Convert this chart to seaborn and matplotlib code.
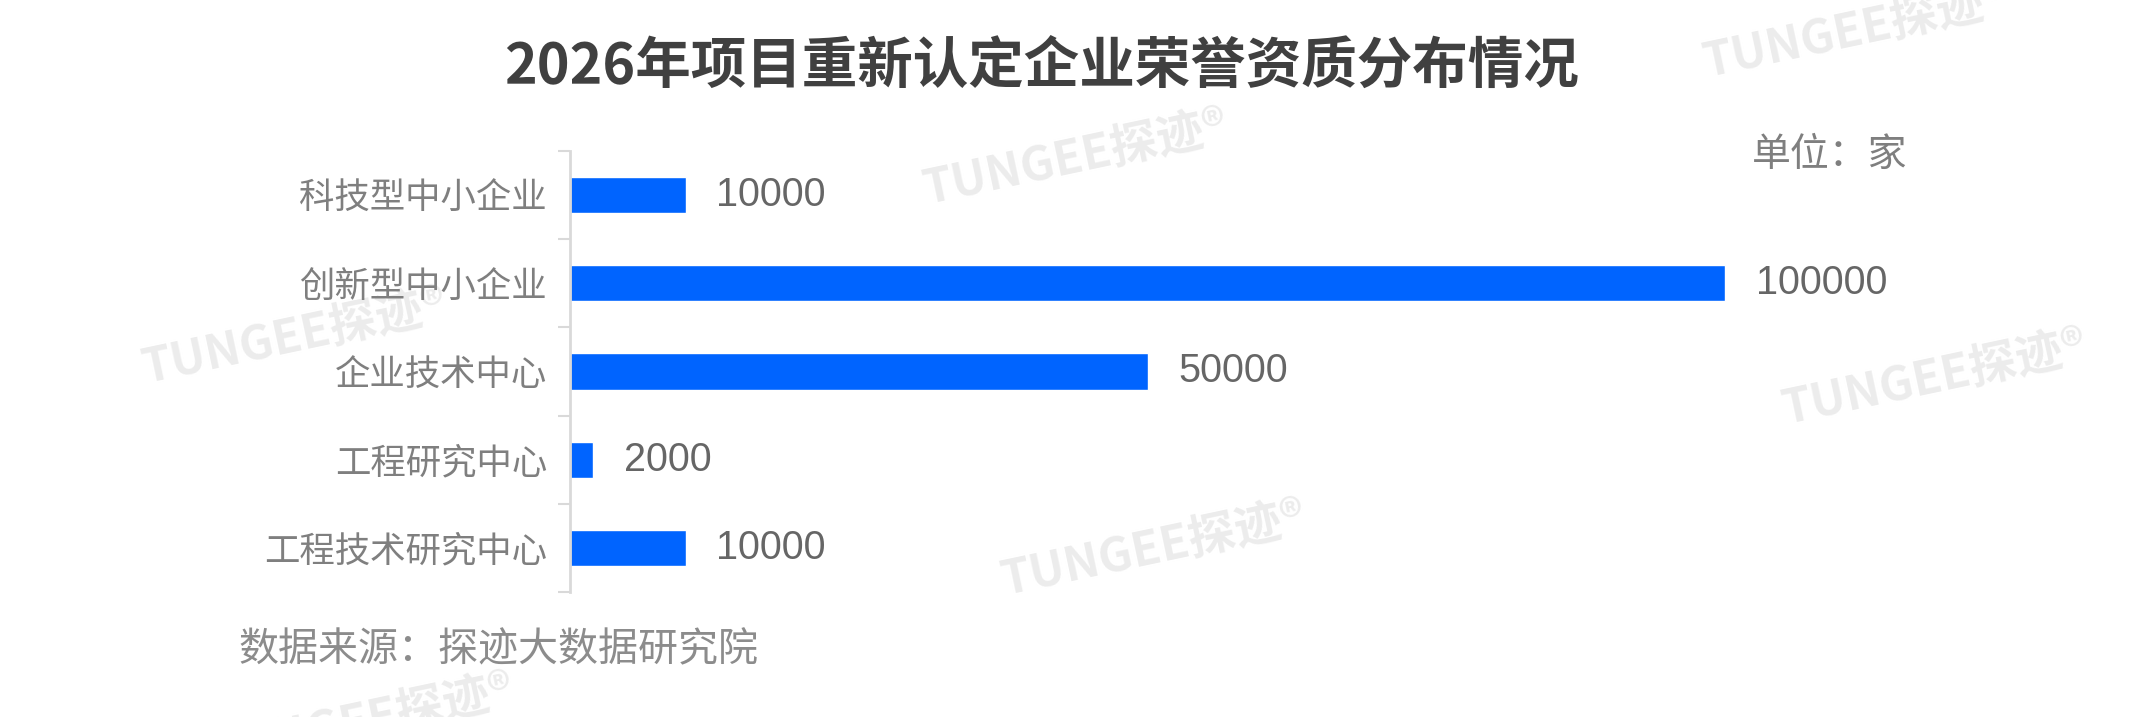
import matplotlib
matplotlib.use('Agg')
import matplotlib.pyplot as plt
import seaborn as sns
import pandas as pd
import numpy as np

# chart data, top to bottom
categories = ['科技型中小企业', '创新型中小企业', '企业技术中心', '工程研究中心', '工程技术研究中心']
counts = [10000, 100000, 50000, 2000, 10000]

title = '2026年项目重新认定企业荣誉资质分布情况'
unit_text = '单位：家'
source_text = '数据来源：探迹大数据研究院'
watermark = 'TUNGEE探迹®'

sns.set_theme(style='white')
plt.rcParams['font.family'] = ['Noto Sans CJK SC', 'DejaVu Sans']

df = pd.DataFrame({'cat': categories, 'n': counts})

W, H = 2154, 717
fig = plt.figure(figsize=(W / 100, H / 100), dpi=100)
ax = fig.add_axes([570 / W, 1 - 592 / H, 1331 / W, 441 / H])
ax.patch.set_alpha(0)

sns.barplot(data=df, x='n', y='cat', color='#0064ff', width=0.41,
            saturation=1, ax=ax)

ax.set_xlim(0, 1331 / 1155 * 100000)
ax.set_ylim(4.5, -0.5)
ax.set_xticks([])
ax.set_xlabel('')
ax.set_ylabel('')

for s in ['top', 'right', 'bottom']:
    ax.spines[s].set_visible(False)
ax.spines['left'].set_color('#d9d9d9')
ax.spines['left'].set_linewidth(2)

# labels on the categories, little ticks between them
ax.tick_params(axis='y', which='major', length=0, pad=16.5,
               labelsize=25.5, labelcolor='#7f7f7f')
ax.set_yticks(np.arange(-0.5, 5, 1), minor=True)
ax.tick_params(axis='y', which='minor', left=True, length=8.6, width=1.5,
               color='#d9d9d9')

ax.bar_label(ax.containers[0], labels=[str(v) for v in counts], padding=22,
             fontsize=28.5, color='#666666', fontfamily=['Liberation Sans'])

fig.text(1041 / W, 1 - 67 / H, title, ha='center', va='center',
         fontsize=40, fontweight='bold', color='#404040')
fig.text(1907 / W, 1 - 155 / H, unit_text, ha='right', va='center',
         fontsize=28, color='#7f7f7f')
fig.text(238 / W, 1 - 650 / H, source_text, ha='left', va='center',
         fontsize=28.8, style='italic', color='#8c8c8c')

# faint watermarks behind everything (some run off the edge, as in the original)
for cx, cy in [(1076, 158), (295, 337), (1935, 378), (1154, 549),
               (1856, 31), (362, 722)]:
    fig.text(cx / W, 1 - cy / H, watermark, rotation=12, ha='center',
             va='center', rotation_mode='anchor', fontsize=34,
             fontweight='bold', color='#ececec', zorder=-1)

fig.savefig('out.png', dpi=100)
